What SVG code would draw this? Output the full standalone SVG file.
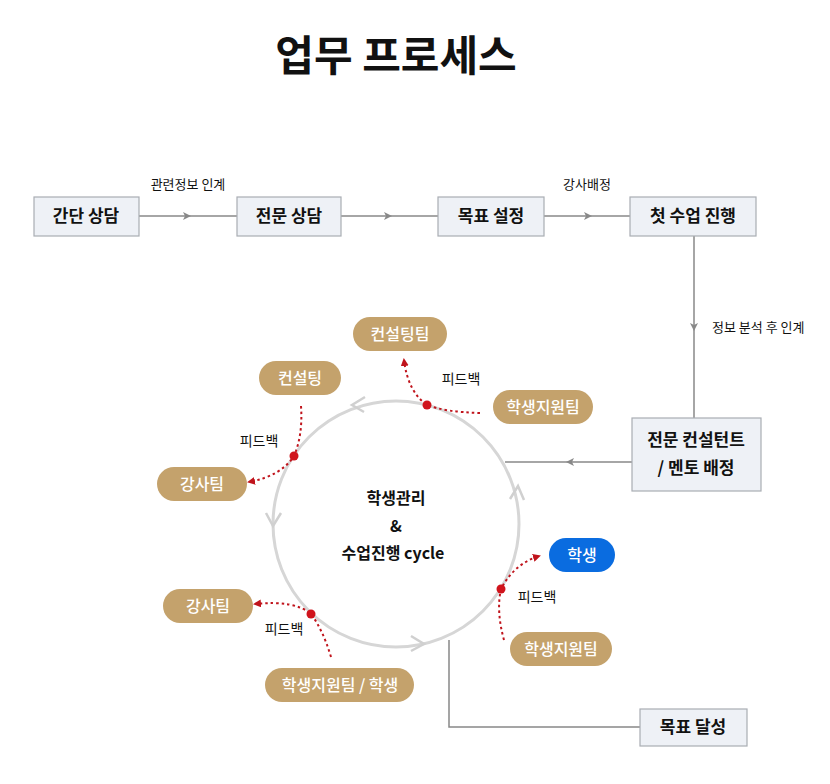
<svg xmlns="http://www.w3.org/2000/svg" width="830" height="784" viewBox="0 0 830 784">
<style>
text{font-family:"Noto Sans CJK KR","Noto Sans",sans-serif;fill:#111}
.box{fill:#eef1f6;stroke:#a9adb3;stroke-width:1.2}
.bt{font-size:17px;font-weight:bold;text-anchor:middle}
.ln{stroke:#888;stroke-width:1.5;fill:none}
.pill{fill:#c4a26c}
.pt{font-size:16px;fill:#fff;text-anchor:middle;font-weight:500}
.fb{stroke:#c0141c;stroke-width:2;stroke-dasharray:2.5 3;fill:none;marker-end:url(#ra)}
.sm{font-size:13px}
.chev{stroke:#d0d0d0;stroke-width:2.5;fill:none}
</style>
<defs>
<marker id="ga" markerWidth="8" markerHeight="8" refX="4" refY="4" orient="auto" markerUnits="userSpaceOnUse"><path d="M0,0 L8,4 L0,8 L2,4Z" fill="#888"/></marker>
<marker id="ra" markerWidth="8" markerHeight="8" refX="6" refY="4" orient="auto" markerUnits="userSpaceOnUse"><path d="M0,0 L8,4 L0,8Z" fill="#c0141c"/></marker>
</defs>
<text x="396" y="71" font-size="42" font-weight="bold" text-anchor="middle">업무 프로세스</text>
<g id="connectors">
<path class="ln" d="M139,216 H237"/><path d="M183,212 L191,216 L183,220 L185,216Z" fill="#888"/>
<path class="ln" d="M341,216 H438"/><path d="M384,212 L392,216 L384,220 L386,216Z" fill="#888"/>
<path class="ln" d="M544,216 H630"/><path d="M584,212 L592,216 L584,220 L586,216Z" fill="#888"/>
<path class="ln" d="M694,236 V418"/><path d="M690,323 L694,331 L698,323 L694,325Z" fill="#888"/>
<path class="ln" d="M632,462 H505"/><path d="M574,458 L566,462 L574,466 L572,462Z" fill="#888"/>
<path class="ln" d="M449,640 V727 H640"/>
<text class="sm" x="188" y="189" text-anchor="middle">관련정보 인계</text>
<text class="sm" x="587" y="189" text-anchor="middle">강사배정</text>
<text class="sm" x="712" y="332">정보 분석 후 인계</text>
<circle cx="396" cy="524" r="123" fill="none" stroke="#d6d6d6" stroke-width="3"/>
<path class="chev" d="M365,397 L352,405 L364,412"/>
<path class="chev" d="M266,513 L273,526 L281,513"/>
<path class="chev" d="M411,636 L424,644 L411,651"/>
<path class="chev" d="M524,500 L518,486 L510,499"/>
<path class="fb" d="M480,413 Q445,412 427,405 Q408,392 404,360"/>
<path class="fb" d="M301,406 Q303,435 294,456 Q281,476 249,482"/>
<path class="fb" d="M331,657 Q323,630 311,614 Q295,600 255,604"/>
<path class="fb" d="M504,640 Q496,611 501,589 Q514,564 539,556"/>
<circle cx="427" cy="405" r="4.5" fill="#d0141c"/>
<circle cx="294" cy="456" r="4.5" fill="#d0141c"/>
<circle cx="311" cy="614" r="4.5" fill="#d0141c"/>
<circle cx="501" cy="589" r="4.5" fill="#d0141c"/>
<text x="461" y="384" font-size="14" text-anchor="middle">피드백</text>
<text x="259" y="446" font-size="14" text-anchor="middle">피드백</text>
<text x="284" y="634" font-size="14" text-anchor="middle">피드백</text>
<text x="537" y="602" font-size="14" text-anchor="middle">피드백</text>
</g>
<g id="n1"><rect class="box" x="34" y="197" width="105" height="39"/><text class="bt" x="86" y="222">간단 상담</text></g>
<g id="n2"><rect class="box" x="237" y="197" width="104" height="39"/><text class="bt" x="289" y="222">전문 상담</text></g>
<g id="n3"><rect class="box" x="438" y="197" width="106" height="39"/><text class="bt" x="491" y="222">목표 설정</text></g>
<g id="n4"><rect class="box" x="630" y="197" width="126" height="39"/><text class="bt" x="693" y="222">첫 수업 진행</text></g>
<g id="n5"><rect class="box" x="632" y="418" width="129" height="73"/><text class="bt" x="696" y="446">전문 컨설턴트</text><text class="bt" x="696" y="474">/ 멘토 배정</text></g>
<g id="n6"><rect class="box" x="640" y="709" width="107" height="37"/><text class="bt" x="693" y="733">목표 달성</text></g>
<g id="center"><text x="396" y="504" font-size="16" font-weight="bold" text-anchor="middle">학생관리</text><text x="396" y="532" font-size="16" font-weight="bold" text-anchor="middle">&amp;</text><text x="393" y="559" font-size="16" font-weight="bold" text-anchor="middle">수업진행 cycle</text></g>
<g id="p1"><rect class="pill" x="353" y="317" width="94" height="34" rx="17"/><text class="pt" x="400" y="340">컨설팅팀</text></g>
<g id="p2"><rect class="pill" x="259" y="361" width="82" height="34" rx="17"/><text class="pt" x="300" y="384">컨설팅</text></g>
<g id="p3"><rect class="pill" x="493" y="390" width="100" height="34" rx="17"/><text class="pt" x="543" y="413">학생지원팀</text></g>
<g id="p4"><rect class="pill" x="157" y="467" width="90" height="34" rx="17"/><text class="pt" x="202" y="490">강사팀</text></g>
<g id="p5"><rect x="549" y="538" width="66" height="34" rx="17" fill="#0a6ce0"/><text class="pt" x="582" y="561">학생</text></g>
<g id="p6"><rect class="pill" x="163" y="589" width="90" height="34" rx="17"/><text class="pt" x="208" y="612">강사팀</text></g>
<g id="p7"><rect class="pill" x="510" y="632" width="102" height="34" rx="17"/><text class="pt" x="561" y="655">학생지원팀</text></g>
<g id="p8"><rect class="pill" x="265" y="668" width="149" height="34" rx="17"/><text class="pt" x="340" y="691">학생지원팀 / 학생</text></g>
</svg>
